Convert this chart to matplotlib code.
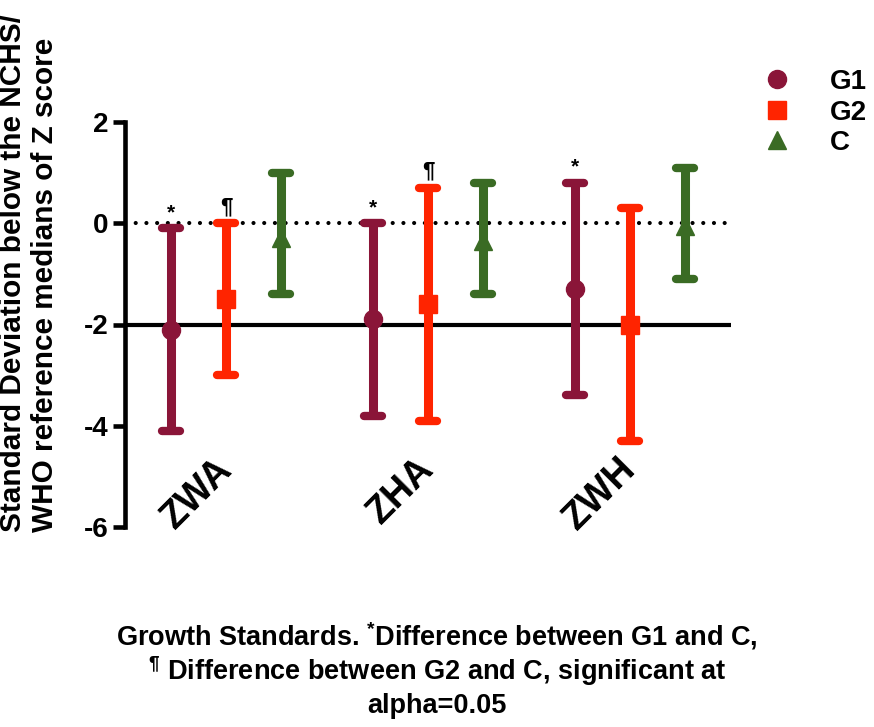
import matplotlib
matplotlib.use("Agg")
import matplotlib.pyplot as plt
from matplotlib.markers import MarkerStyle

# data (Z score means and lower/upper limits)
groups = ["ZWA", "ZHA", "ZWH"]
series = ["G1", "G2", "C"]
means = {"G1": [-2.1, -1.9, -1.3],
         "G2": [-1.5, -1.6, -2.0],
         "C":  [-0.3, -0.35, -0.05]}
lows = {"G1": [-4.1, -3.8, -3.4],
        "G2": [-3.0, -3.9, -4.3],
        "C":  [-1.4, -1.4, -1.1]}
highs = {"G1": [-0.1, 0.0, 0.8],
         "G2": [0.0, 0.7, 0.3],
         "C":  [1.0, 0.8, 1.1]}
# significance marks: (group index, series, symbol)
marks = [(0, "G1", "*"), (0, "G2", "¶"), (1, "G1", "*"), (1, "G2", "¶"), (2, "G1", "*")]

colors = {"G1": "#8A1538", "G2": "#FF2400", "C": "#3A6B24"}
markers = {"G1": "o", "G2": "s", "C": "^"}
offsets = {"G1": -0.273, "G2": 0.0, "C": 0.273}

plt.rcParams["font.family"] = ["Liberation Sans", "DejaVu Sans"]
plt.rcParams["font.weight"] = "bold"
plt.rcParams["axes.unicode_minus"] = False
plt.rcParams["mathtext.fontset"] = "custom"
plt.rcParams["mathtext.rm"] = "Liberation Sans:bold"
plt.rcParams["mathtext.bf"] = "Liberation Sans:bold"
plt.rcParams["lines.scale_dashes"] = False

fig = plt.figure(figsize=(8.74, 7.27), dpi=100)
ax = fig.add_axes([125 / 874, 1 - 527 / 727, (731 - 125) / 874, (527 - 122) / 727])

# reference lines
ax.axhline(0, color="black", lw=3, linestyle=(0, (0.01, 7.7)), dash_capstyle="round", zorder=1)
ax.axhline(-2, color="black", lw=3, zorder=1)

handles = []
for s in series:
    xs = [i + offsets[s] for i in range(len(groups))]
    m = means[s]
    yerr = [[m[i] - lows[s][i] for i in range(len(m))],
            [highs[s][i] - m[i] for i in range(len(m))]]
    cont = ax.errorbar(xs, m, yerr=yerr, fmt=markers[s], color=colors[s],
                       ms=13, elinewidth=6.5, capsize=6.5, capthick=6, zorder=2)
    for cap in cont[1]:
        cap.set_marker(MarkerStyle("_", capstyle="round"))
    cont[2][0].set_capstyle("butt")
    handles.append(cont[0])

for gi, s, sym in marks:
    x = gi + offsets[s]
    y = highs[s][gi]
    ax.text(x, y + 0.12, sym, ha="center", va="bottom",
            fontsize=16 if sym == "¶" else 15, fontweight="bold")

# group labels inside the plot
for i, g in enumerate(groups):
    ax.text(i - 0.06, -4.5, g, rotation=45, rotation_mode="anchor",
            ha="right", va="top", fontsize=27, fontweight="bold")

ax.set_xlim(-0.5, 2.5)
ax.set_ylim(-6, 2)
ax.set_yticks([-6, -4, -2, 0, 2])
ax.set_xticks([])
for side in ["top", "right", "bottom"]:
    ax.spines[side].set_visible(False)
ax.spines["left"].set_linewidth(3.3)
ax.tick_params(axis="y", length=9, width=3.3, labelsize=20, pad=3)

fig.text(29 / 874, 1 - 532 / 727,
         "Standard Deviation below the NCHS/\nWHO reference medians of Z score",
         rotation=90, ha="center", va="bottom", multialignment="left",
         fontsize=21.4, fontweight="bold", linespacing=1.18)

fig.legend(handles=handles, labels=series, loc="upper left",
           bbox_to_anchor=(763 / 874, 0.905), frameon=False, fontsize=20,
           borderpad=0, borderaxespad=0, handlelength=1.0, handletextpad=1.4,
           labelspacing=0.16, markerscale=1.0)

cap_lines = ["Growth Standards. $^{*}$Difference between G1 and C,",
             "$^{¶}$ Difference between G2 and C, significant at",
             "alpha=0.05"]
for k, line in enumerate(cap_lines):
    fig.text(0.5, 1 - (636 + 35 * k) / 727, line, ha="center", va="center",
             fontsize=19.5, fontweight="bold")

fig.savefig("out.png", dpi=100)
